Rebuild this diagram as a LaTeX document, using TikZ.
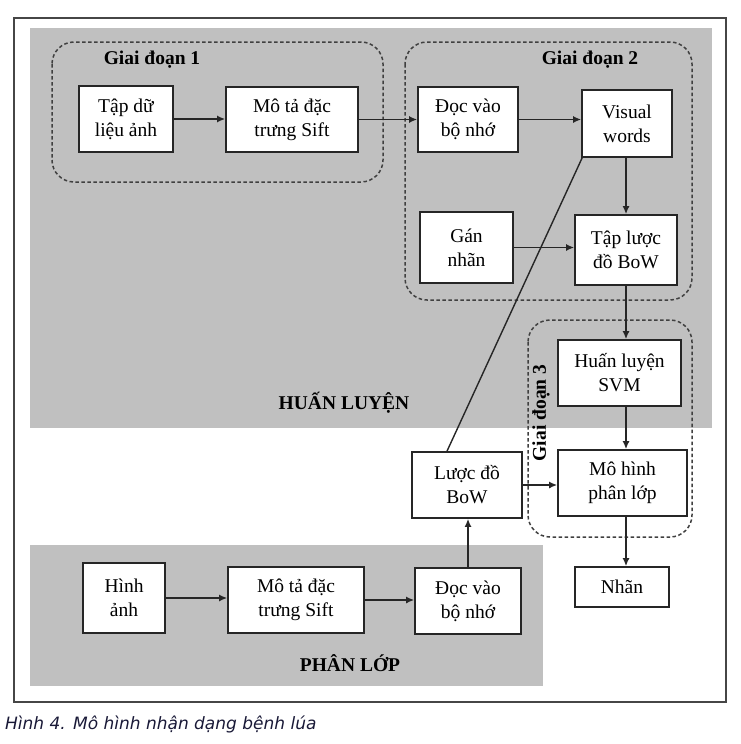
\documentclass[tikz,border=0pt]{standalone}
\usepackage{fontspec}
\setmainfont{Liberation Serif}
\newfontfamily\capfont{DejaVu Sans}
\usetikzlibrary{arrows.meta}
\definecolor{bggray}{RGB}{192,192,192}
\definecolor{framec}{RGB}{70,70,70}
\definecolor{capc}{RGB}{25,25,55}
\tikzset{
  box/.style={draw=black!85, line width=1.7pt, fill=white, align=center, font=\fontsize{19.5}{24}\selectfont, inner sep=0pt},
  grp/.style={draw=black!75, line width=1.5pt, dash pattern=on 3.5pt off 2.5pt, rounded corners=22pt},
  arr/.style={draw=black!85, line width=1.5pt, -{Latex[length=8pt,width=7pt]}},
  ln/.style={draw=black!85, line width=1.4pt},
  lbl/.style={font=\bfseries\fontsize{19.5}{20}\selectfont, inner sep=0pt}
}
\begin{document}
\begin{tikzpicture}[x=1pt,y=-1pt]
\useasboundingbox (0,0) rectangle (740,744);
% frame
\draw[framec, line width=2pt] (14,18) rectangle (726,702);
% gray areas
\fill[bggray] (30,28) rectangle (712,428);
\fill[bggray] (30,545) rectangle (543,686);
% groups
\draw[grp] (52,42) rectangle (383,182);
\draw[grp] (405,42) rectangle (692,300);
\draw[grp] (528,320) rectangle (692,537);
\node[lbl] (g1) at (152,60) {Giai đoạn 1};
\node[lbl] (g2) at (590,60) {Giai đoạn 2};
\node[lbl, rotate=90] (g3) at (541,413) {Giai đoạn 3};
\node[lbl] (hl) at (344,403) {HUẤN LUYỆN};
\node[lbl] (pl) at (350,663) {PHÂN LỚP};
% boxes (top)
\node[box, minimum width=94pt, minimum height=66pt] (tap) at (126,119) {Tập dữ\\liệu ảnh};
\node[box, minimum width=132pt, minimum height=65pt] (mota1) at (292,119.5) {Mô tả đặc\\trưng Sift};
\node[box, minimum width=100pt, minimum height=65pt] (doc1) at (468,119.5) {Đọc vào\\bộ nhớ};
\node[box, minimum width=90pt, minimum height=67pt] (vw) at (627,123.5) {Visual\\words};
\node[box, minimum width=93pt, minimum height=71pt] (gan) at (466.5,247.5) {Gán\\nhãn};
\node[box, minimum width=102pt, minimum height=70pt] (taplo) at (626,250) {Tập lược\\đồ BoW};
\node[box, minimum width=123pt, minimum height=66pt] (svm) at (619.5,373) {Huấn luyện\\SVM};
\node[box, minimum width=129pt, minimum height=66pt] (mh) at (622.5,483) {Mô hình\\phân lớp};
\node[box, minimum width=110pt, minimum height=66pt] (lbow) at (467,485) {Lược đồ\\BoW};
\node[box, minimum width=94pt, minimum height=40pt] (nhan) at (622,587) {Nhãn};
% boxes (bottom)
\node[box, minimum width=82pt, minimum height=70pt] (hinh) at (124,598) {Hình\\ảnh};
\node[box, minimum width=136pt, minimum height=66pt] (mota2) at (296,600) {Mô tả đặc\\trưng Sift};
\node[box, minimum width=106pt, minimum height=66pt] (doc2) at (468,601) {Đọc vào\\bộ nhớ};
% connectors
\draw[arr] (tap.east) -- (mota1.west|-tap.east);
\draw[arr] (mota1.east) -- (doc1.west);
\draw[arr] (doc1.east) -- (vw.west|-doc1.east);
\draw[arr] (vw.south-|taplo.north) -- (taplo.north);
\draw[arr] (gan.east) -- (taplo.west|-gan.east);
\draw[arr] (taplo.south) -- (taplo.south|-svm.north);
\draw[arr] (svm.south-|taplo.south) -- (taplo.south|-mh.north);
\draw[arr] (mh.south-|taplo.south) -- (taplo.south|-nhan.north);
\draw[arr] (lbow.east) -- (mh.west|-lbow.east);
\draw[arr] (doc2.north) -- (doc2.north|-lbow.south);
\coordinate (lt) at ([xshift=-20pt]lbow.north);
\draw[ln] (lt) -- ([xshift=1pt]vw.south west);
\draw[arr] (hinh.east) -- (mota2.west|-hinh.east);
\draw[arr] (mota2.east) -- (mota2.east-|doc2.west);
% caption
\node[anchor=west, inner sep=0pt, text=capc, font=\capfont\itshape\fontsize{17}{18}\selectfont] (cap) at (5,724) {Hình 4. Mô hình nhận dạng bệnh lúa};
\end{tikzpicture}
\end{document}
